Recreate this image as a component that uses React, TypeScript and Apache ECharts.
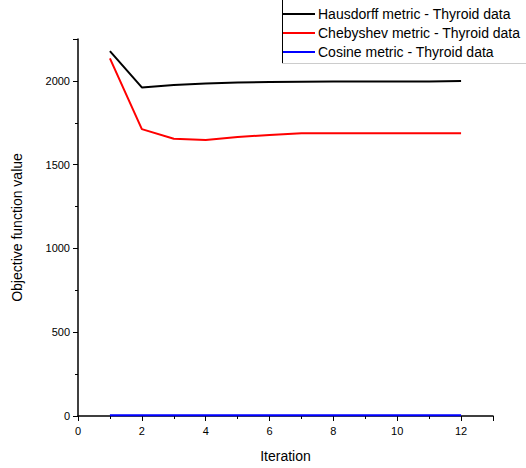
import React, { useEffect, useRef } from "react";
import * as echarts from "echarts";

const iterations = [1, 2, 3, 4, 5, 6, 7, 8, 9, 10, 11, 12];
const hausdorff = [2178, 1961, 1975, 1985, 1990, 1993, 1995, 1996, 1996, 1996, 1996, 2000];
const chebyshev = [2134, 1712, 1655, 1647, 1665, 1677, 1688, 1688, 1688, 1688, 1688, 1688];
const cosine = [5, 5, 5, 5, 5, 5, 5, 5, 5, 5, 5, 5];
const seriesNames = [
  "Hausdorff metric - Thyroid data",
  "Chebyshev metric - Thyroid data",
  "Cosine metric - Thyroid data",
];
const seriesColors = ["#000000", "#ff0000", "#0000ff"];

export default function App() {
  const ref = useRef<HTMLDivElement>(null);
  useEffect(() => {
    const chart = echarts.init(ref.current!, null, { renderer: "svg" });
    const allData = [hausdorff, chebyshev, cosine];
    const font = "Arial, 'Liberation Sans', sans-serif";
    chart.setOption({
      animation: false,
      backgroundColor: "#ffffff",
      textStyle: { fontFamily: font },
      grid: { left: 78, right: 33, top: 39, bottom: 50, containLabel: false },
      legend: {
        orient: "vertical",
        left: 283,
        top: 6,
        padding: 0,
        itemWidth: 32,
        itemHeight: 2,
        itemGap: 3,
        icon: "rect",
        textStyle: { fontSize: 14, color: "#000", fontFamily: font, padding: [0, 0, 0, -2], lineHeight: 16 },
        data: seriesNames.map((n, i) => ({ name: n, itemStyle: { color: seriesColors[i] } })),
      },
      graphic: [
        { type: "line", shape: { x1: 282.5, y1: 0, x2: 282.5, y2: 63 }, style: { stroke: "#000", lineWidth: 1 }, z: 10 },
        { type: "line", shape: { x1: 282, y1: 63.5, x2: 526, y2: 63.5 }, style: { stroke: "#cccccc", lineWidth: 1 }, z: 10 },
      ],
      xAxis: {
        type: "value",
        min: 0,
        max: 13,
        interval: 2,
        name: "Iteration",
        nameLocation: "middle",
        nameGap: 33,
        nameTextStyle: { fontSize: 14, color: "#000", fontFamily: font },
        axisLine: { lineStyle: { color: "#000", width: 1.5 } },
        axisTick: { show: true, length: 5, lineStyle: { color: "#000" } },
        minorTick: { show: true, splitNumber: 2, length: 3, lineStyle: { color: "#000" } },
        axisLabel: {
          fontSize: 11,
          color: "#000",
          margin: 9,
          formatter: (v: number) => (v > 12 ? "" : String(v)),
        },
        splitLine: { show: false },
      },
      yAxis: {
        type: "value",
        min: 0,
        max: 2250,
        interval: 500,
        name: "Objective function value",
        nameLocation: "middle",
        nameGap: 54,
        nameTextStyle: { fontSize: 14, color: "#000", fontFamily: font },
        axisLine: { show: true, lineStyle: { color: "#000", width: 1.5 } },
        axisTick: { show: true, length: 5, lineStyle: { color: "#000" } },
        minorTick: { show: true, splitNumber: 2, length: 3, lineStyle: { color: "#000" } },
        axisLabel: {
          fontSize: 11,
          color: "#000",
          margin: 8,
          formatter: (v: number) => (v % 500 === 0 ? String(v) : ""),
        },
        splitLine: { show: false },
      },
      series: seriesNames.map((n, i) => ({
        name: n,
        type: "line",
        data: iterations.map((x, j) => [x, allData[i][j]]),
        symbol: "none",
        lineStyle: { color: seriesColors[i], width: 2 },
        itemStyle: { color: seriesColors[i] },
      })),
    });
    return () => chart.dispose();
  }, []);
  return <div ref={ref} style={{ width: 526, height: 468, position: "absolute", left: 0, top: 0 }} />;
}
